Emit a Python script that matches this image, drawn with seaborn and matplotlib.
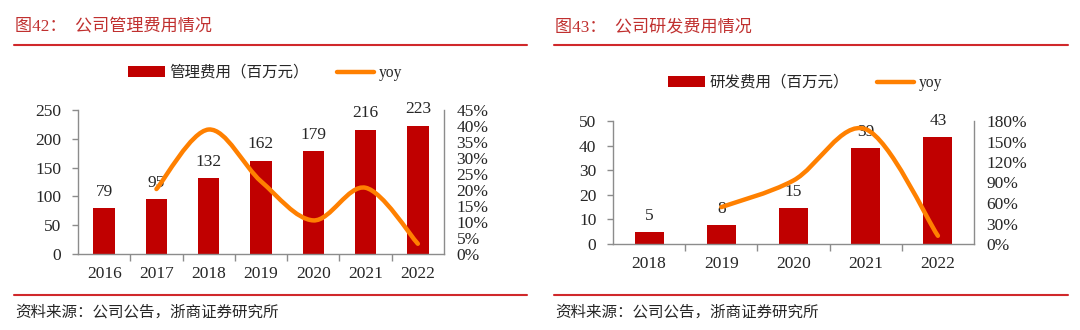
import numpy as np
import pandas as pd
import matplotlib
matplotlib.use("Agg")
import matplotlib.pyplot as plt
import seaborn as sns
from matplotlib.path import Path
from matplotlib.patches import PathPatch, Patch
from matplotlib.lines import Line2D
from matplotlib.ticker import FuncFormatter, MultipleLocator, FixedLocator

# ---------------- data ----------------
admin_years = ["2016", "2017", "2018", "2019", "2020", "2021", "2022"]
admin_expense = [79, 95, 132, 162, 179, 216, 223]
admin_yoy_years = ["2017", "2018", "2019", "2020", "2021", "2022"]
admin_yoy = [20.3, 38.9, 22.7, 10.5, 20.7, 3.2]

rd_years = ["2018", "2019", "2020", "2021", "2022"]
rd_expense = [4.9, 7.6, 14.6, 38.9, 43.3]
rd_yoy_years = ["2019", "2020", "2021", "2022"]
rd_yoy = [54, 93, 168, 12]

title_left = "图42：  公司管理费用情况"
title_right = "图43：  公司研发费用情况"
bar_label_left = "管理费用（百万元）"
bar_label_right = "研发费用（百万元）"
line_label = "yoy"
source_text = "资料来源：公司公告，浙商证券研究所"

# ---------------- style ----------------
sns.set_theme(style="white")
plt.rcParams["font.family"] = ["Liberation Serif", "Noto Sans CJK SC"]

BAR = "#C00000"
ORANGE = "#FF8000"
SPINE = "#8C8C8C"
TITLE_C = "#C0302F"
RULE_C = "#D0282B"
TXT = "#262626"

W, H = 1080, 330
fig = plt.figure(figsize=(W / 100, H / 100), dpi=100)


def fx(px):
    return px / W


def fy(py):
    return 1 - py / H


def smooth_line(ax, xs, ys, color):
    pts = ax.transData.transform(np.column_stack([xs, ys]))
    n = len(pts)
    verts = [pts[0]]
    codes = [Path.MOVETO]
    for i in range(n - 1):
        p0 = pts[max(i - 1, 0)]
        p1 = pts[i]
        p2 = pts[i + 1]
        p3 = pts[min(i + 2, n - 1)]
        c1 = p1 + (p2 - p0) / 6.0
        c2 = p2 - (p3 - p1) / 6.0
        verts += [c1, c2, p2]
        codes += [Path.CURVE4] * 3
    vd = ax.transData.inverted().transform(np.array(verts))
    patch = PathPatch(Path(vd, codes), transform=ax.transData, fill=False,
                      edgecolor=color, lw=3.2, capstyle="round", joinstyle="round",
                      zorder=5)
    patch.set_clip_on(False)
    ax.add_patch(patch)


def panel(rect_px, years, values, yoy_years, yoy, ymax, ystep, y2max, y2step,
          bar_width, legend_label, legend_center, title, x0, x1):
    l, t, r, b = rect_px
    ax = fig.add_axes([fx(l), fy(b), fx(r - l), (b - t) / H])
    df = pd.DataFrame({"year": years, "value": values})
    sns.barplot(data=df, x="year", y="value", ax=ax, color=BAR, saturation=1,
                width=bar_width, linewidth=0, zorder=2)
    ax.set_xlim(-0.5, len(years) - 0.5)
    ax.set_ylim(0, ymax)
    ax.set_xlabel("")
    ax.set_ylabel("")
    ax.yaxis.set_major_locator(MultipleLocator(ystep))
    for c in ax.containers:
        ax.bar_label(c, fmt="%.0f", padding=6, fontsize=12.5, color=TXT)
    for s in ["top", "right"]:
        ax.spines[s].set_visible(False)
    for s in ["left", "bottom"]:
        ax.spines[s].set_color(SPINE)
        ax.spines[s].set_linewidth(1)
    ax.tick_params(axis="y", length=4, width=1, color=SPINE, pad=8,
                   labelsize=12.5, labelcolor=TXT, left=True)
    ax.tick_params(axis="x", which="major", length=0, pad=9, labelsize=12.5,
                   labelcolor=TXT)
    ax.xaxis.set_minor_locator(FixedLocator(np.arange(0.5, len(years) - 1, 1.0)))
    ax.tick_params(axis="x", which="minor", length=5, width=1, color=SPINE,
                   bottom=True)

    ax2 = ax.twinx()
    ax2.set_ylim(0, y2max)
    ax2.yaxis.set_major_locator(MultipleLocator(y2step))
    ax2.yaxis.set_major_formatter(FuncFormatter(lambda v, p: f"{v:.0f}%"))
    for s in ["top", "left", "bottom"]:
        ax2.spines[s].set_visible(False)
    ax2.spines["right"].set_color(SPINE)
    ax2.spines["right"].set_linewidth(1)
    ax2.tick_params(axis="y", length=0, pad=9, labelsize=12.5, labelcolor=TXT)
    ax2.grid(False)
    ax.grid(False)
    xs = [years.index(y) for y in yoy_years]
    smooth_line(ax2, xs, yoy, ORANGE)

    handles = [Patch(facecolor=BAR, edgecolor="none"),
               Line2D([], [], color=ORANGE, lw=3.2)]
    fig.legend(handles, [legend_label, line_label], loc="center",
               bbox_to_anchor=(fx(legend_center[0]), fy(legend_center[1])),
               ncol=2, frameon=False, fontsize=11.2, handlelength=2.4,
               handletextpad=0.3, columnspacing=1.8, labelcolor=TXT)

    fig.text(fx(x0 + 1), fy(27), title, color=TITLE_C, fontsize=12.3,
             va="center", ha="left")
    fig.add_artist(Line2D([fx(x0), fx(x1)], [fy(45), fy(45)],
                          transform=fig.transFigure, color=RULE_C, lw=1.5))
    fig.add_artist(Line2D([fx(x0), fx(x1)], [fy(295), fy(295)],
                          transform=fig.transFigure, color=RULE_C, lw=1.5))
    fig.text(fx(x0 + 1), fy(312), source_text, color=TXT, fontsize=11.2,
             va="center", ha="left", family=["Noto Sans CJK SC"])


panel((78, 110, 444, 254), admin_years, admin_expense, admin_yoy_years, admin_yoy,
      250, 50, 45, 5, 0.41, bar_label_left, (265, 73), title_left, 14, 527)
panel((613, 121, 974, 244), rd_years, rd_expense, rd_yoy_years, rd_yoy,
      50, 10, 180, 30, 0.40, bar_label_right, (805, 83), title_right, 554, 1068)

fig.savefig("out.png", dpi=100, facecolor="white")
